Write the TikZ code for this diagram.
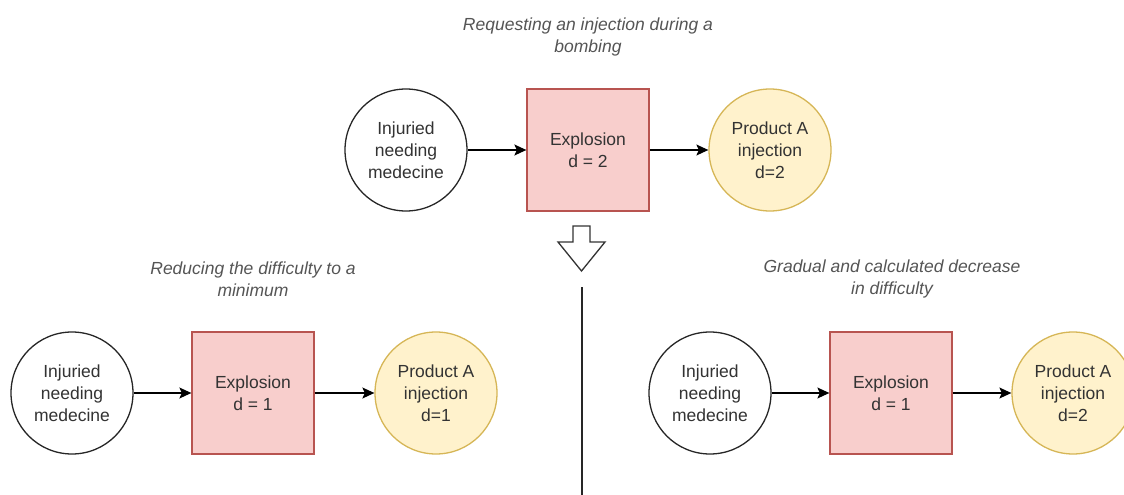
\documentclass[tikz,border=0pt]{standalone}
\usepackage{fontspec}
\setmainfont{Liberation Sans}
\usetikzlibrary{arrows.meta}
\definecolor{redfill}{HTML}{F8CECC}
\definecolor{redline}{HTML}{B85450}
\definecolor{yelfill}{HTML}{FFF2CC}
\definecolor{yelline}{HTML}{D6B656}
\definecolor{txt}{HTML}{333333}
\definecolor{ttl}{HTML}{555555}
\begin{document}
\begin{tikzpicture}[x=1pt,y=-1pt,
 base/.style={font=\fontsize{17.5}{22}\selectfont, text=txt, align=center, inner sep=0pt, line width=1.3pt},
 person/.style={base, circle, draw=black!85, fill=white, minimum size=122pt},
 boom/.style={base, rectangle, draw=redline, fill=redfill, minimum size=122pt},
 prod/.style={base, circle, draw=yelline, fill=yelfill, minimum size=122pt},
 caption/.style={font=\itshape\fontsize{17.5}{22}\selectfont, text=ttl, align=center, inner sep=0pt},
 flow/.style={-{Stealth[length=12pt,width=11pt,inset=2.5pt]}, line width=1.3pt},
 hollow/.style={draw=black!80, line width=1.3pt, fill=white, line join=miter}
]
\useasboundingbox (0,0) rectangle (1124,495);
\fill[white] (0,0) rectangle (1124,495);

% top row
\node[caption] (t1) at (588,37) {Requesting an injection during a\\bombing};
\node[person] (a1) at (406,150) {Injuried\\needing\\medecine};
\node[boom] (b1) at (588,150) {Explosion\\d = 2};
\node[prod] (c1) at (770,150) {Product A\\injection\\d=2};
\draw[flow] (a1) -- (b1);
\draw[flow] (b1) -- (c1);

% hollow down arrow and divider
\draw[hollow] (573,226) -- (590,226) -- (590,242) -- (605,242) -- (581.5,271) -- (558,242) -- (573,242) -- cycle;
\coordinate (vtop) at (582,287);
\coordinate (vbot) at (582,497);
\draw[line width=1.3pt, black!85] (vtop) -- (vbot);

% bottom left
\node[caption] (t2) at (253,279) {Reducing the difficulty to a\\minimum};
\node[person] (a2) at (72,393) {Injuried\\needing\\medecine};
\node[boom] (b2) at (253,393) {Explosion\\d = 1};
\node[prod] (c2) at (436,393) {Product A\\injection\\d=1};
\draw[flow] (a2) -- (b2);
\draw[flow] (b2) -- (c2);

% bottom right
\node[caption] (t3) at (892,279) {Gradual and calculated decrease\\in difficulty};
\node[person] (a3) at (710,393) {Injuried\\needing\\medecine};
\node[boom] (b3) at (891,393) {Explosion\\d = 1};
\node[prod] (c3) at (1073,393) {Product A\\injection\\d=2};
\draw[flow] (a3) -- (b3);
\draw[flow] (b3) -- (c3);
\end{tikzpicture}
\end{document}
